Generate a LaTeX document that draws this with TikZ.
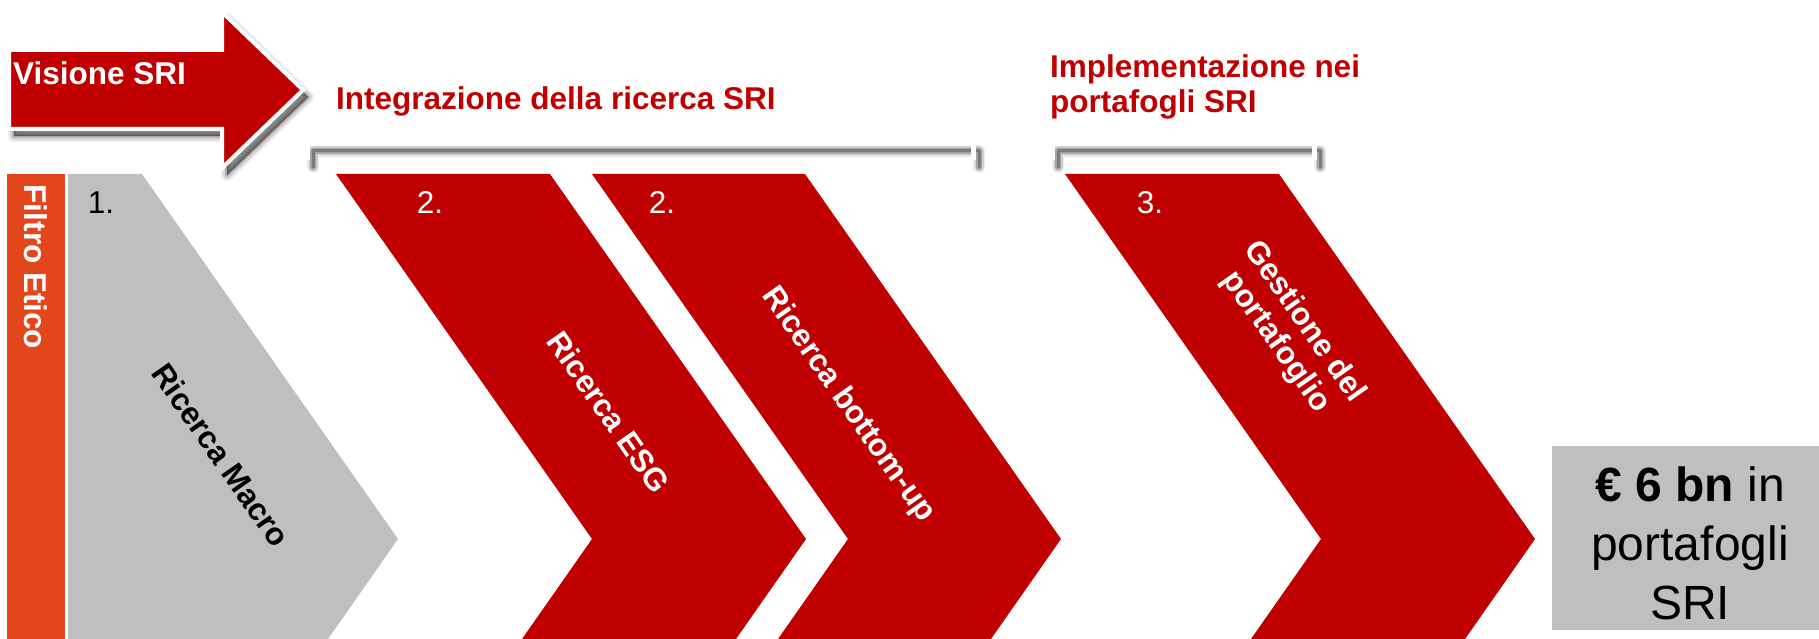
\documentclass[tikz,border=0pt]{standalone}
\usepackage{fontspec}
\setmainfont{Liberation Sans}
\definecolor{srired}{HTML}{C00000}
\definecolor{orangebar}{HTML}{E3461A}
\definecolor{greybox}{HTML}{BFBFBF}
\begin{document}
\begin{tikzpicture}[x=1pt,y=-1pt,
  lbl/.style={font=\fontsize{31.5}{35}\selectfont\bfseries, inner sep=0pt},
  num/.style={font=\fontsize{31.5}{35}\selectfont, inner sep=0pt},
  hdr/.style={lbl, text=srired, align=left, anchor=base west},
  chev/.style={fill=srired},
  shad/.style={draw=black, line join=round, line cap=round},
  brk/.style={draw=white, line width=5pt, line join=miter}
]
\useasboundingbox (0,0) rectangle (1819,639);
\begin{scope}
\clip (0,0) rectangle (1819,639);
% filter bar
\fill[orangebar] (7,174) rectangle (65,700);
% grey chevron
\fill[greybox] (68,174) -- (142,174) -- (398,539) -- (258,739) -- (68,739) -- cycle;
% red chevrons
\fill[chev] (336,174) -- (550,174) -- (806,539) -- (666,739) -- (452,739) -- (592,539) -- cycle;
\fill[chev] (592,174) -- (805,174) -- (1061,539) -- (921,739) -- (708,739) -- (848,539) -- cycle;
\fill[chev] (1065,174) -- (1279,174) -- (1535,539) -- (1395,739) -- (1181,739) -- (1321,539) -- cycle;
% result box
\fill[greybox] (1552,446) rectangle (1830,630);
\end{scope}
% bracket shadows
\foreach \w/\o in {12/0.08,9/0.12,6/0.2,3/0.25}{
  \draw[shad, line width=\w pt, opacity=\o, shift={(6,7)}] (307,160) -- (307,144) -- (973,144) -- (973,160);
  \draw[shad, line width=\w pt, opacity=\o, shift={(6,7)}] (1052,160) -- (1052,144) -- (1314,144) -- (1314,160);
}
\draw[brk] (307,160) -- (307,144) -- (973,144) -- (973,160);
\draw[brk] (1052,160) -- (1052,144) -- (1314,144) -- (1314,160);
% big arrow shadow
\foreach \w/\o in {12/0.07,8/0.1,4/0.14,1/0.2}{
  \filldraw[shad, fill=black, line width=\w pt, opacity=\o, shift={(5,7)}] (9,50) -- (222,50) -- (222,12) -- (303,90) -- (222,168) -- (222,129) -- (9,129) -- cycle;
}
\filldraw[fill=srired, draw=white, line width=4pt, line join=miter] (9,50) -- (222,50) -- (222,12) -- (303,90) -- (222,168) -- (222,129) -- (9,129) -- cycle;
\node[lbl, text=white, anchor=base west] (vis) at (13,85) {Visione SRI};
% headers
\node[hdr] (integ) at (336,110) {Integrazione della ricerca SRI};
\node[hdr] (impl) at (1050,113) {Implementazione nei\\portafogli SRI};
% filter label
\node[lbl, text=white, rotate=-90] (filtro) at (36,267) {Filtro Etico};
% numbers
\node[num] (n1) at (101,203) {1.};
\node[num, text=white] (n2a) at (430,203) {2.};
\node[num, text=white] (n2b) at (662,203) {2.};
\node[num, text=white] (n3) at (1150,203) {3.};
% chevron labels
\node[lbl, rotate=-55] (macro) at (221,455) {Ricerca Macro};
\node[lbl, text=white, rotate=-55] (esg) at (609,412) {Ricerca ESG};
\node[lbl, text=white, rotate=-55] (bottom) at (848,405) {Ricerca bottom-up};
\node[lbl, text=white, rotate=-55, align=center] (gest) at (1290,332) {Gestione del\\portafoglio};
% result
\node[font=\fontsize{48}{59}\selectfont, align=center, inner sep=0pt] (res) at (1690,543) {\textbf{€ 6 bn} in\\portafogli\\SRI};
\end{tikzpicture}
\end{document}
